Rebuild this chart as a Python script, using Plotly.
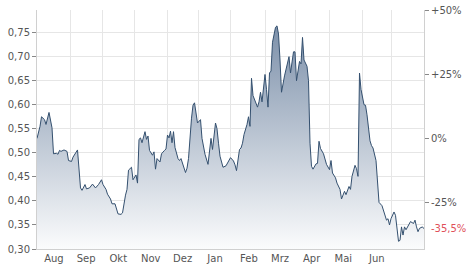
import plotly.graph_objects as go

# trading-day index and closing prices
days = [0, 1, 2, 3, 5, 6, 8, 10, 11, 13, 14, 15, 16, 18, 20, 21, 23, 24, 26, 27,
        29, 30, 32, 33, 35, 37, 39, 41, 43, 44, 46, 47, 49, 50, 52, 53, 54, 56, 57, 59,
        60, 61, 63, 64, 66, 67, 68, 69, 70, 72, 73, 74, 75, 77, 78, 79, 80, 82, 83, 85,
        86, 87, 88, 89, 90, 91, 92, 94, 95, 96, 98, 99, 100, 101, 103, 104, 105, 106, 107, 109,
        110, 112, 114, 116, 117, 119, 120, 121, 122, 124, 126, 129, 131, 132, 133, 135, 136, 137, 138, 140,
        141, 142, 143, 144, 145, 147, 148, 149, 150, 152, 153, 154, 155, 156, 157, 159, 160, 161, 162, 163,
        165, 166, 168, 169, 171, 172, 173, 175, 176, 177, 178, 180, 181, 182, 183, 184, 186, 187, 188, 189,
        191, 193, 195, 196, 197, 199, 200, 202, 203, 205, 206, 208, 209, 210, 212, 213, 214, 215, 216, 218,
        219, 220, 222, 223, 224, 226, 227, 228, 230, 232, 233, 234, 235, 236, 238, 239, 240, 241, 242, 243,
        244, 245, 246, 248, 249, 251, 252, 253, 254, 255, 257, 258]
prices = [0.530, 0.540, 0.555, 0.575, 0.569, 0.559, 0.584, 0.552, 0.498, 0.499, 0.497, 0.505, 0.503, 0.506, 0.503, 0.484, 0.482, 0.491, 0.503, 0.506,
          0.427, 0.422, 0.434, 0.425, 0.427, 0.435, 0.427, 0.434, 0.444, 0.434, 0.424, 0.414, 0.404, 0.394, 0.394, 0.385, 0.373, 0.372, 0.375, 0.412,
          0.424, 0.464, 0.470, 0.444, 0.454, 0.437, 0.528, 0.531, 0.521, 0.544, 0.528, 0.535, 0.505, 0.495, 0.502, 0.466, 0.488, 0.481, 0.498, 0.505,
          0.508, 0.537, 0.531, 0.545, 0.521, 0.544, 0.511, 0.488, 0.484, 0.488, 0.470, 0.459, 0.468, 0.488, 0.572, 0.599, 0.604, 0.585, 0.562, 0.569,
          0.530, 0.497, 0.476, 0.530, 0.507, 0.562, 0.550, 0.520, 0.493, 0.470, 0.473, 0.490, 0.483, 0.475, 0.463, 0.507, 0.510, 0.520, 0.538, 0.559,
          0.575, 0.555, 0.655, 0.619, 0.610, 0.595, 0.606, 0.626, 0.606, 0.663, 0.632, 0.595, 0.666, 0.670, 0.730, 0.761, 0.764, 0.747, 0.693, 0.626,
          0.660, 0.673, 0.700, 0.666, 0.710, 0.710, 0.650, 0.690, 0.685, 0.740, 0.693, 0.680, 0.650, 0.520, 0.472, 0.466, 0.477, 0.478, 0.524, 0.509,
          0.498, 0.476, 0.465, 0.484, 0.458, 0.448, 0.437, 0.424, 0.404, 0.420, 0.413, 0.430, 0.424, 0.451, 0.474, 0.467, 0.451, 0.666, 0.632, 0.600,
          0.599, 0.579, 0.525, 0.515, 0.510, 0.484, 0.430, 0.397, 0.390, 0.370, 0.360, 0.363, 0.350, 0.363, 0.377, 0.370, 0.336, 0.316, 0.318, 0.346,
          0.329, 0.346, 0.340, 0.350, 0.357, 0.353, 0.360, 0.346, 0.336, 0.343, 0.346, 0.342]

month_labels = ["Aug", "Sep", "Okt", "Nov", "Dez", "Jan", "Feb", "Mrz", "Apr", "Mai", "Jun"]
month_label_pos = [11.3, 32.7, 54.2, 75.8, 97.1, 118.7, 141.3, 162.0, 183.1, 204.2, 226.5]
month_starts = [22.5, 43.8, 64.7, 86.9, 107.7, 128.7, 152.0, 172.5, 194.7, 216.8, 236.5]
price_ticks = [0.30, 0.35, 0.40, 0.45, 0.50, 0.55, 0.60, 0.65, 0.70, 0.75]
pct_ticks = [50, 25, 0, -25]
pct_labels = ["+50%", "+25%", "0%", "-25%"]

base = prices[0]
last_pct = (prices[-1] / base - 1) * 100
y_lo, y_hi = 0.30, 0.797

GRID = "#e6e6e6"
TXT = "#555555"
FONT = dict(family="DejaVu Sans, Verdana, sans-serif", size=10, color=TXT)

fig = go.Figure()
fig.add_trace(go.Scatter(
    x=days, y=prices, mode="lines",
    line=dict(color="#34506f", width=1),
    fill="tozeroy",
    fillgradient=dict(type="vertical", colorscale=[[0, "#ffffff"], [1, "#7b8fa9"]],
                      start=y_lo, stop=0.77),
    hoverinfo="skip", showlegend=False,
))
fig.add_trace(go.Scatter(
    x=[days[0]], y=[0], yaxis="y2", mode="markers",
    marker=dict(opacity=0), hoverinfo="skip", showlegend=False,
))

fig.update_layout(
    width=474, height=269,
    margin=dict(l=37, r=50, t=5, b=18),
    paper_bgcolor="white", plot_bgcolor="white",
    font=FONT,
    xaxis=dict(
        range=[days[0], days[-1]],
        tickmode="array", tickvals=month_label_pos, ticktext=month_labels,
        showgrid=False, ticks="", zeroline=False,
        showline=True, linecolor="#d0d0d0", linewidth=1,
        minor=dict(tickmode="array", tickvals=month_starts, showgrid=True,
                   gridcolor=GRID, gridwidth=1, ticks=""),
        tickfont=FONT, fixedrange=True,
    ),
    yaxis=dict(
        range=[y_lo, y_hi],
        tickmode="array", tickvals=price_ticks,
        ticktext=[f"{v:.2f}".replace(".", ",") for v in price_ticks],
        showgrid=True, gridcolor=GRID, gridwidth=1,
        ticks="outside", ticklen=4, tickcolor="#888888",
        showline=True, linecolor="#d0d0d0", linewidth=1,
        zeroline=False, tickfont=FONT, fixedrange=True,
    ),
    yaxis2=dict(
        overlaying="y", side="right",
        range=[(y_lo / base - 1) * 100, (y_hi / base - 1) * 100],
        tickmode="array", tickvals=pct_ticks, ticktext=pct_labels,
        showgrid=False, zeroline=False,
        ticks="outside", ticklen=4, tickcolor="#888888",
        showline=True, linecolor="#d0d0d0", linewidth=1,
        tickfont=FONT, fixedrange=True,
    ),
)

fig.add_annotation(
    x=1, xref="paper", y=prices[-1], yref="y",
    text=f"{last_pct:.1f}%".replace(".", ","),
    showarrow=False, xanchor="left", yanchor="middle", xshift=5,
    font=dict(family=FONT["family"], size=10, color="#e0505a"),
)

fig.write_html("out.html")
